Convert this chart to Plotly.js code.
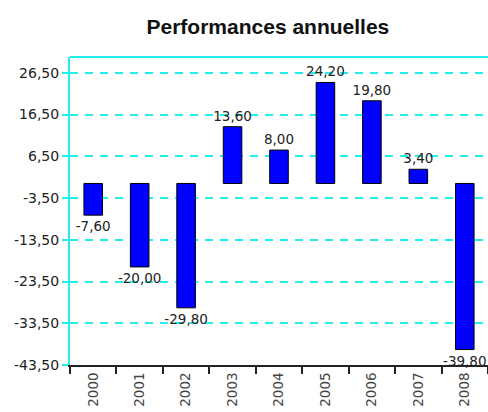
<!DOCTYPE html>
<html><head><meta charset="utf-8">
<script src="https://cdn.plot.ly/plotly-3.0.1.min.js"></script>
<style>body{margin:0;background:#fff}#c{width:488px;height:412px}</style>
</head><body><div id="c"></div>
<script>
const years = ['2000','2001','2002','2003','2004','2005','2006','2007','2008'];
const perf = [-7.6, -20.0, -29.8, 13.6, 8.0, 24.2, 19.8, 3.4, -39.8];
const yTicks = [-43.5, -33.5, -23.5, -13.5, -3.5, 6.5, 16.5, 26.5];

const fmt = v => v.toFixed(2).replace('.', ',');
const trace = {
  type: 'bar', x: years, y: perf, width: 0.4,
  marker: {color: '#0000ff', line: {color: '#000000', width: 1}},
  text: perf.map(fmt), textposition: 'outside', cliponaxis: false,
  constraintext: 'none',
  textfont: {family: 'DejaVu Sans', size: 13.5, color: '#222'},
  hoverinfo: 'none'
};
const layout = {
  width: 488, height: 412,
  margin: {l: 70, r: 0, t: 57, b: 47},
  paper_bgcolor: '#fff', plot_bgcolor: '#fff', showlegend: false,
  title: {text: 'Performances annuelles', x: 0.549, xref: 'container', y: 0.952, yref: 'container',
          font: {family: 'Liberation Sans', size: 21, color: '#111', weight: 'bold'}},
  xaxis: {type: 'category', range: [-0.5, 8.5], showgrid: false, showline: true,
          linecolor: '#222', linewidth: 2, ticks: 'outside', tickson: 'boundaries',
          ticklen: 7, tickwidth: 2, tickcolor: '#222', tickangle: -90,
          tickfont: {family: 'DejaVu Sans', size: 13.5, color: '#444'}},
  yaxis: {range: [-43.5, 30.3], tickvals: yTicks, ticktext: yTicks.map(fmt), showgrid: true,
          gridcolor: '#22eeee', gridwidth: 2, griddash: '8px,7px', zeroline: false,
          showline: true, linecolor: '#22eeee', linewidth: 2,
          ticks: 'outside', ticklen: 6, tickwidth: 2, tickcolor: '#22eeee',
          tickfont: {family: 'DejaVu Sans', size: 14, color: '#222'}},
  shapes: [{type: 'line', xref: 'paper', yref: 'paper', x0: 0, x1: 1, y0: 1, y1: 1,
            line: {color: '#22eeee', width: 2}}]
};
Plotly.newPlot('c', [trace], layout, {staticPlot: true});
</script></body></html>
